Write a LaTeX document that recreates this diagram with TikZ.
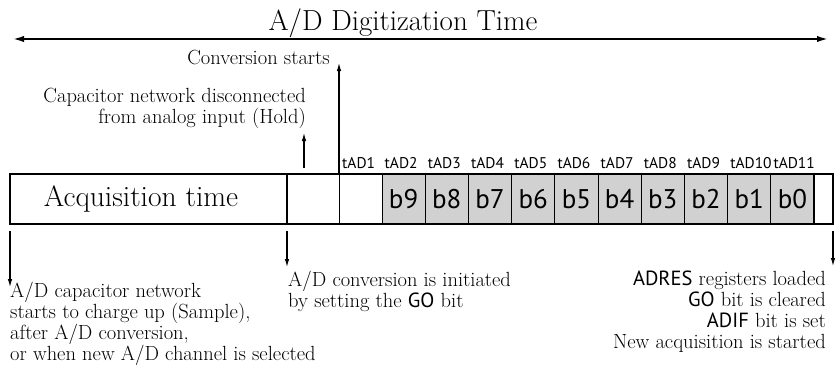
\documentclass[tikz,border=0pt]{standalone}
\usepackage{fontspec}
\setsansfont{PT Sans}
\usetikzlibrary{arrows.meta}
\begin{document}
\begin{tikzpicture}[x=1pt,y=-1pt,
  body/.style={font=\fontsize{20.5}{21}\selectfont, inner sep=0pt},
  cellbox/.style={draw, line width=1pt, minimum height=50pt, inner sep=0pt, outer sep=0pt, anchor=north west},
  bitcell/.style={cellbox, fill=black!18, minimum width=43.2pt, font=\sffamily\fontsize{27}{27}\selectfont},
  tadlab/.style={font=\sffamily\fontsize{15.5}{15.5}\selectfont, inner sep=0pt, anchor=base west},
  arr/.style={line width=1.6pt, -{Latex[length=9pt,width=4.5pt]}},
  bigarr/.style={line width=2.6pt, {Latex[length=14pt,width=6pt]}-{Latex[length=14pt,width=6pt]}}]
\useasboundingbox (0,0) rectangle (836,381);

% title and top arrow
\node[font=\fontsize{29}{30}\selectfont, inner sep=0pt, anchor=base] (title) at (403,30) {A/D Digitization Time};
\coordinate (tl) at (10,39);
\coordinate (tr) at (831,39);
\draw[bigarr] (tl) -- (tr);

% main bar
\node[cellbox, minimum width=277pt] (acq) at (10,174) {};
\node[font=\fontsize{29.5}{30}\selectfont, inner sep=0pt] (acqtext) at (141,199) {Acquisition time};
\node[cellbox, minimum width=52pt] (hold) at (287,174) {};
\node[cellbox, minimum width=43pt] (tad1) at (339,174) {};
\foreach \i/\b in {0/9,1/8,2/7,3/6,4/5,5/4,6/3,7/2,8/1,9/0}{
  \node[bitcell] (b\b) at (382+43.2*\i,174) {b\b};
  \pgfmathtruncatemacro{\t}{\i+2}
  \node[tadlab] (t\t) at (384.5+43.2*\i,168) {tAD\t};
}
\node[tadlab] (t1) at (342,168) {tAD1};
\node[cellbox, minimum width=19pt] (endc) at (814,174) {};
% thick outline and dividers
\draw[line width=2.2pt] (acq.north west) rectangle (endc.south east);
\draw[line width=2.2pt] (acq.north east) -- (acq.south east);
\draw[line width=2.2pt] (endc.north west) -- (endc.south west);

% upper annotations
\node[body, anchor=base east] (conv) at (330,64) {Conversion starts};
\coordinate (convtip) at (339,62);
\draw[arr] (tad1.north west) -- (convtip);

\node[body, anchor=base east, align=right] (cap) at (306,123) {Capacitor network disconnected\\from analog input (Hold)};
\coordinate (holdbot) at (304,168);
\coordinate (holdtip) at (304,132);
\draw[arr] (holdbot) -- (holdtip);

% lower annotations
\coordinate (a1) at (10,231);
\coordinate (a1tip) at (10,288);
\draw[arr] (a1) -- (a1tip);
\node[body, anchor=base west, align=left] (sample) at (10,360) {A/D capacitor network\\starts to charge up (Sample),\\after A/D conversion,\\or when new A/D channel is selected};

\coordinate (a2) at (287,231);
\coordinate (a2tip) at (287,268);
\draw[arr] (a2) -- (a2tip);
\node[body, anchor=base west, align=left] (go) at (288,307) {A/D conversion is initiated\\by setting the {\sffamily GO} bit};

\coordinate (a3) at (833,231);
\coordinate (a3tip) at (833,267);
\draw[arr] (a3) -- (a3tip);
\node[body, anchor=base east, align=right] (done) at (826,348) {{\sffamily ADRES} registers loaded\\{\sffamily GO} bit is cleared\\{\sffamily ADIF} bit is set\\New acquisition is started};
\end{tikzpicture}
\end{document}
